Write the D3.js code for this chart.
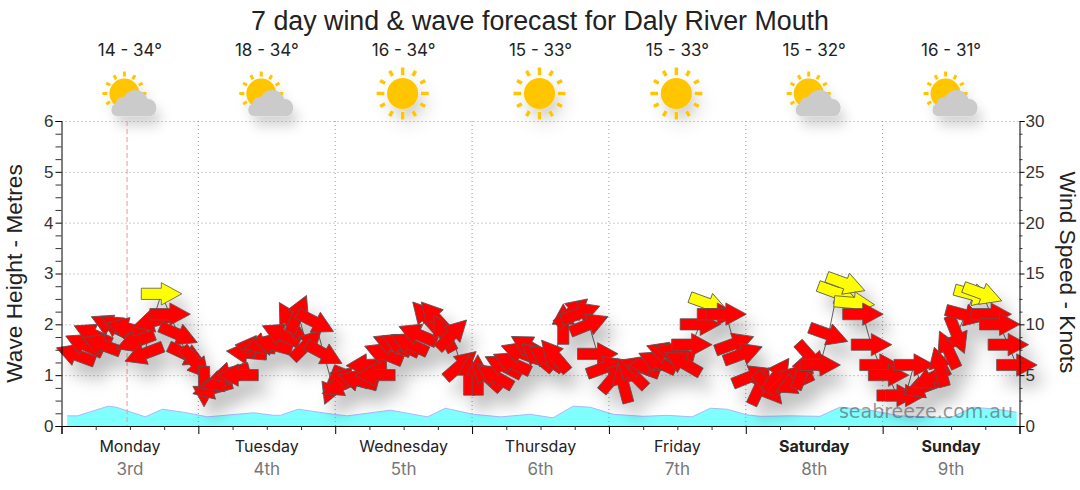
<!DOCTYPE html>
<html>
<head>
<meta charset="utf-8">
<title>Daly River Mouth forecast</title>
<script src="https://cdnjs.cloudflare.com/ajax/libs/d3/7.8.5/d3.min.js"></script>
<style>
  body { margin: 0; background: #fff; }
  text { font-family: "Liberation Sans", Arial, sans-serif; }
  .axis path, .axis line { stroke: #000; }
  .axis .minor line { stroke: #333; }
</style>
</head>
<body>
<div id="chart"></div>
<script>
const dayNames = ["Monday", "Tuesday", "Wednesday", "Thursday", "Friday", "Saturday", "Sunday"];
const dayDates = ["3rd", "4th", "5th", "6th", "7th", "8th", "9th"];
const tempRanges = ["14 - 34°", "18 - 34°", "16 - 34°", "15 - 33°", "15 - 33°", "15 - 32°", "16 - 31°"];
const dayCloudy = [true, true, false, false, false, true, true];
const nowHour = 11.5;

const waveHours = [1, 2.8, 8.2, 9.6, 14.7, 17.7, 21.4, 25.6, 33.7, 37.2, 38.4, 41.5, 47.7, 50.1, 57.7, 64.2, 67.3, 72.2, 77, 82.2, 86.2, 89.7, 92.7, 96.8, 102, 106.2, 110.6, 113.8, 116.7, 120.2, 122.5, 127.8, 133, 136.5, 141.8, 147, 155.8, 159.9, 164, 167.5];
const waveMetres = [.2, .2, .39, .37, .18, .33, .27, .18, .26, .21, .21, .33, .23, .2, .31, .18, .35, .23, .18, .23, .16, .39, .37, .23, .19, .21, .18, .35, .33, .22, .19, .2, .19, .37, .31, .2, .16, .37, .33, .27];

// wind, one per 1.5 hour slot from 1am monday (slot 0 has no arrow)
const windKnots = [
  7, 8, 9, 8, 9.9, 9.7, 9.6, 8.3, 7.1, 10.3,
  13, 11, 9, 7, 6.2, 3.9, 3.7, 4.4, 5.2, 5,
  7.2, 7.8, 8.1, 8, 9, 10.4, 11, 8, 10.2, 7.1,
  4, 4, 4.7, 4.5, 6, 5, 7.1, 8, 8, 8.1,
  9, 10.7, 10.7, 9.1, 9, 6, 5, 5, 4.9, 4.9,
  5.9, 6.2, 7.2, 7.8, 6.8, 6.7, 6.9, 10, 11.2, 11.1,
  10, 7.1, 5.8, 4.9, 4.2, 5.2, 5.8, 6, 6.3, 7.2,
  7.2, 6.2, 8, 10, 12, 11, 11, 8.1, 7.1, 4.9,
  3.9, 3.7, 5, 4.5, 4.2, 5.5, 6.7, 6, 9, 13.1,
  14, 12.1, 11, 8, 6, 5, 3, 3, 6, 3.8,
  4.7, 5.8, 7.5, 9, 10.9, 12.9, 13, 11, 10, 8,
  6];
const windHeading = [
  -160, -155, -155, -160, -155, -147, -165, 160, 159, 165,
  0, 0, 23, 25, 50, 90, 165, 160, 165, 180,
  -175, -175, 165, -165, -155, -120, -66, -45, 27, 28,
  112, 156, -165, -165, 178, 180, -158, -157, -155, -155,
  -157, -132, -132, -118, -45, -41, -90, -90, -138, -150,
  -153, -155, -160, -150, -140, -145, -130, -90, -40, -20,
  -22, 0, -20, -50, -105, -135, -160, 180, -155, -160,
  -165, -150, 0, 0, 20, 0, 0, -20, -20, -22,
  -65, 50, -55, -45, 155, -70, 48, 0, 20, 20,
  20, 5, 0, 0, 0, 0, 0, 0, 0, 160,
  153, -105, -115, 68, 15, 15, 20, 0, 0, 0,
  0];
const windSlots = d3.range(1, windKnots.length + 1);
const yellowFrom = 12;

const width = 1080, height = 490;
const plotLeft = 61.5, plotRight = 1019.5, plotTop = 121, plotBottom = 426;

const svg = d3.select("#chart").append("svg")
  .attr("width", width)
  .attr("height", height)
  .style("display", "block");

const x = d3.scaleLinear().domain([0, 168]).range([plotLeft, plotRight]);
const yWave = d3.scaleLinear().domain([0, 6]).range([plotBottom, plotTop]);
const yWind = d3.scaleLinear().domain([0, 30]).range([plotBottom, plotTop]);
const slotHour = s => 1 + s * 1.5;

const defs = svg.append("defs");
const shadow = (id, blur, dx, dy, op) => {
  const f = defs.append("filter").attr("id", id)
    .attr("filterUnits", "userSpaceOnUse")
    .attr("x", 0).attr("y", 0).attr("width", width).attr("height", height);
  f.append("feDropShadow")
    .attr("dx", dx).attr("dy", dy)
    .attr("stdDeviation", blur)
    .attr("flood-color", "#000")
    .attr("flood-opacity", op);
};
shadow("arrowShadow", 8, 9, 14, 0.24);
shadow("iconShadow", 6, 5, 10, 0.16);

// title and temperatures
svg.append("text")
  .attr("x", 540).attr("y", 30)
  .attr("text-anchor", "middle")
  .attr("font-size", 26.8)
  .attr("fill", "#222")
  .text("7 day wind & wave forecast for Daly River Mouth");

const dayCentre = d => x(d * 24 + 12);

svg.append("g").selectAll("text")
  .data(tempRanges)
  .join("text")
  .attr("x", (d, i) => dayCentre(i))
  .attr("y", 56)
  .attr("text-anchor", "middle")
  .attr("font-size", 17)
  .style("font-family", "Inter")
  .attr("fill", "#222")
  .text(d => d);

// weather icons, the sun is a little smaller behind a cloud
const rays = d3.range(12).map(i => i * 30);
const rayInner = r => r.cloudy ? (r.angle % 90 ? 16.5 : 17) : (r.angle % 90 ? 20.3 : 18.3);
const rayOuter = r => r.cloudy ? (r.angle % 90 ? 21 : 22) : 26;
const rad = r => r.angle * Math.PI / 180;

const icons = svg.append("g")
  .attr("filter", "url(#iconShadow)")
  .selectAll("g")
  .data(dayCloudy)
  .join("g")
  .attr("transform", (d, i) => `translate(${dayCentre(i) - (d ? 5.5 : 1)},93.5)`);

icons.selectAll("line")
  .data(d => rays.map(angle => ({ angle, cloudy: d })))
  .join("line")
  .attr("x1", r => rayInner(r) * Math.cos(rad(r)))
  .attr("y1", r => rayInner(r) * Math.sin(rad(r)))
  .attr("x2", r => rayOuter(r) * Math.cos(rad(r)))
  .attr("y2", r => rayOuter(r) * Math.sin(rad(r)))
  .attr("stroke", "#ffc600")
  .attr("stroke-width", r => r.cloudy ? 3 : 3.5);

icons.append("circle")
  .attr("r", d => d ? 15 : 15.6)
  .attr("fill", "#ffc600");

const clouds = icons.filter(d => d).append("g").attr("fill", "#cbcbcb");
clouds.append("rect").attr("x", -13).attr("y", 10).attr("width", 44).attr("height", 12.7).attr("rx", 6);
clouds.append("circle").attr("cx", 0).attr("cy", 12.5).attr("r", 9.5);
clouds.append("circle").attr("cx", 11).attr("cy", 9).attr("r", 12.5);
clouds.append("circle").attr("cx", 23.5).attr("cy", 14).attr("r", 8.5);

// wave area
const area = d3.area()
  .x((d, i) => x(waveHours[i]))
  .y0(plotBottom)
  .y1(d => yWave(d));
svg.append("path")
  .datum(waveMetres)
  .attr("d", area)
  .attr("fill", "#80ffff");
svg.append("path")
  .datum(waveMetres)
  .attr("d", d3.line().x((d, i) => x(waveHours[i])).y(d => yWave(d)))
  .attr("fill", "none")
  .attr("stroke", "#aab8ff")
  .attr("stroke-width", 1);

// dotted grid
const grid = svg.append("g")
  .attr("stroke", "#999")
  .attr("stroke-dasharray", "1,3");
grid.selectAll(".h")
  .data(d3.range(1, 7))
  .join("line")
  .attr("class", "h")
  .attr("x1", plotLeft).attr("x2", plotRight)
  .attr("y1", d => yWave(d) + .5).attr("y2", d => yWave(d) + .5);
grid.selectAll(".v")
  .data(d3.range(1, 7))
  .join("line")
  .attr("class", "v")
  .attr("y1", plotTop).attr("y2", plotBottom)
  .attr("x1", d => x(d * 24)).attr("x2", d => x(d * 24));

svg.append("line")
  .attr("x1", x(nowHour)).attr("x2", x(nowHour))
  .attr("y1", plotTop).attr("y2", plotBottom)
  .attr("stroke", "#ff9090")
  .attr("stroke-dasharray", "5,3");

// wind speed line and arrows
svg.append("path")
  .datum(windKnots)
  .attr("d", d3.line().x((d, i) => x(slotHour(windSlots[i]))).y(d => yWind(d)))
  .attr("fill", "none")
  .attr("stroke", "#666")
  .attr("stroke-width", 1);

const arrowPath = "M-20,-5.6L0,-5.6L0,-11.2L20.5,0L0,11.2L0,5.6L-20,5.6Z";
svg.append("g")
  .attr("filter", "url(#arrowShadow)")
  .selectAll("path")
  .data(windKnots)
  .join("path")
  .attr("d", arrowPath)
  .attr("transform", (d, i) => `translate(${x(slotHour(windSlots[i]))},${yWind(d)}) rotate(${windHeading[i]})`)
  .attr("fill", d => d >= yellowFrom ? "#ffff00" : "#ff0000")
  .attr("stroke", "#555")
  .attr("stroke-width", .8);

// axes
const axisFont = g => g.selectAll("text").attr("font-size", 17).attr("fill", "#333");
const minorWave = d3.range(0, 6.01, .25).filter(d => d % 1);
const minorWind = minorWave.map(d => d * 5);

svg.append("g").attr("class", "axis")
  .attr("transform", `translate(${plotLeft},0)`)
  .call(d3.axisLeft(yWave).tickValues(d3.range(0, 7)).tickFormat(d3.format("d")).tickSize(6).tickPadding(2))
  .call(axisFont)
  .append("g").attr("class", "minor")
  .call(d3.axisLeft(yWave).tickValues(minorWave).tickFormat("").tickSize(6));

svg.append("g").attr("class", "axis")
  .attr("transform", `translate(${plotRight},0)`)
  .call(d3.axisRight(yWind).tickValues(d3.range(0, 31, 5)).tickSize(5).tickPadding(1))
  .call(axisFont)
  .append("g").attr("class", "minor")
  .call(d3.axisRight(yWind).tickValues(minorWind).tickFormat("").tickSize(3));

svg.append("g").attr("class", "axis")
  .attr("transform", `translate(0,${plotBottom})`)
  .call(d3.axisBottom(x).tickValues(d3.range(0, 169, 24)).tickFormat("").tickSize(8))
  .append("g").attr("class", "minor")
  .call(d3.axisBottom(x).tickValues(d3.range(0, 168, 6).filter(d => d % 24)).tickFormat("").tickSize(4));

svg.selectAll(".minor .domain").remove();

svg.append("text")
  .attr("transform", "translate(21.5,273.5) rotate(-90)")
  .attr("text-anchor", "middle")
  .attr("font-size", 22.7)
  .attr("fill", "#222")
  .text("Wave Height - Metres");

svg.append("text")
  .attr("transform", "translate(1060,272.5) rotate(90)")
  .attr("text-anchor", "middle")
  .attr("font-size", 22.7)
  .attr("fill", "#222")
  .text("Wind Speed - Knots");

// day labels
svg.append("g").selectAll("text")
  .data(dayNames)
  .join("text")
  .attr("x", (d, i) => dayCentre(i))
  .attr("y", 452)
  .attr("text-anchor", "middle")
  .attr("font-size", 16)
  .attr("font-weight", (d, i) => i >= 5 ? "bold" : "normal")
  .style("font-family", "Inter")
  .attr("fill", "#222")
  .text(d => d);

svg.append("g").selectAll("text")
  .data(dayDates)
  .join("text")
  .attr("x", (d, i) => dayCentre(i))
  .attr("y", 475)
  .attr("text-anchor", "middle")
  .attr("font-size", 17)
  .style("font-family", "Inter")
  .attr("fill", "#777")
  .text(d => d);

svg.append("text")
  .attr("x", 1013).attr("y", 418)
  .attr("text-anchor", "end")
  .attr("font-size", 19)
  .style("font-family", "'DejaVu Sans'")
  .attr("fill", "#555")
  .attr("fill-opacity", .6)
  .text("seabreeze.com.au");
</script>
</body>
</html>
